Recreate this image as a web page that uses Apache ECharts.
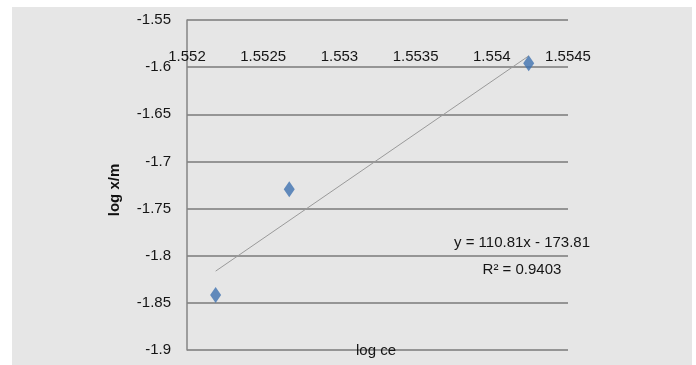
<!DOCTYPE html>
<html>
<head>
<meta charset="utf-8">
<script src="https://cdn.jsdelivr.net/npm/echarts@6/dist/echarts.min.js"></script>
<style>
html,body{margin:0;padding:0;background:#fff;}
#c{width:696px;height:365px;}
</style>
</head>
<body>
<div id="c"></div>
<script>
// Data
const logCe = [1.552188, 1.552671, 1.554242];
const logXm = [-1.8417, -1.7295, -1.5959];
const xTicks = { min: 1.552, max: 1.5545, step: 0.0005 };
const yTicks = { min: -1.9, max: -1.55, step: 0.05 };
const xAxisName = 'log ce';
const yAxisName = 'log x/m';
const eqLines = ['y = 110.81x - 173.81', 'R\u00B2 = 0.9403'];

// least squares trendline from the data
const n = logCe.length;
const mx = logCe.reduce((a, b) => a + b, 0) / n;
const my = logXm.reduce((a, b) => a + b, 0) / n;
let sxy = 0, sxx = 0;
for (let i = 0; i < n; i++) { sxy += (logCe[i] - mx) * (logXm[i] - my); sxx += (logCe[i] - mx) ** 2; }
const slope = sxy / sxx, icpt = my - slope * mx;
const xMin = Math.min(...logCe), xMax = Math.max(...logCe);
const trend = [[xMin, slope * xMin + icpt], [xMax, slope * xMax + icpt]];
const pts = logCe.map((x, i) => [x, logXm[i]]);

const FONT = '"Liberation Sans", Arial, sans-serif';
const chart = echarts.init(document.getElementById('c'), null, { renderer: 'canvas' });
chart.setOption({
  backgroundColor: '#ffffff',
  animation: false,
  grid: { left: 187, right: 128, top: 20, bottom: 15, containLabel: false },
  xAxis: {
    type: 'value', position: 'top', offset: -47,
    min: xTicks.min, max: xTicks.max, interval: xTicks.step,
    axisLine: { show: false }, axisTick: { show: false }, splitLine: { show: false },
    axisLabel: {
      margin: 3, color: '#151515', fontFamily: FONT, fontSize: 15,
      formatter: v => String(parseFloat(v.toFixed(4)))
    }
  },
  yAxis: {
    type: 'value', min: yTicks.min, max: yTicks.max, interval: yTicks.step,
    axisLine: { show: true, lineStyle: { color: '#858585', width: 1.5 } },
    axisTick: { show: false },
    splitLine: { show: true, lineStyle: { color: '#7a7a7a', width: 1.5 } },
    axisLabel: {
      margin: 16, color: '#151515', fontFamily: FONT, fontSize: 15,
      formatter: v => String(parseFloat(v.toFixed(2)))
    }
  },
  graphic: [
    { type: 'rect', z: -10, silent: true, shape: { x: 12, y: 7, width: 680, height: 358 }, style: { fill: '#e6e6e6' } },
    { type: 'text', x: 115, y: 190, rotation: Math.PI / 2, z: 10,
      style: { text: yAxisName, font: 'bold 15px "Liberation Sans", Arial, sans-serif', fill: '#111', textAlign: 'center', textVerticalAlign: 'middle' } },
    { type: 'text', x: 376, y: 351, z: 10,
      style: { text: xAxisName, font: '15px ' + FONT, fill: '#151515', textAlign: 'center', textVerticalAlign: 'middle' } },
    { type: 'text', x: 522, y: 243, z: 10,
      style: { text: eqLines[0], font: '15px ' + FONT, fill: '#151515', textAlign: 'center', textVerticalAlign: 'middle' } },
    { type: 'text', x: 522, y: 270, z: 10,
      style: { text: eqLines[1], font: '15px ' + FONT, fill: '#151515', textAlign: 'center', textVerticalAlign: 'middle' } }
  ],
  series: [
    { type: 'line', data: trend, symbol: 'none', z: 2,
      lineStyle: { color: '#9a9a9a', width: 1 } },
    { type: 'scatter', data: pts, symbol: 'diamond', symbolSize: [11, 16], z: 3,
      itemStyle: { color: '#3f72b0' } }
  ]
});
</script>
</body>
</html>
